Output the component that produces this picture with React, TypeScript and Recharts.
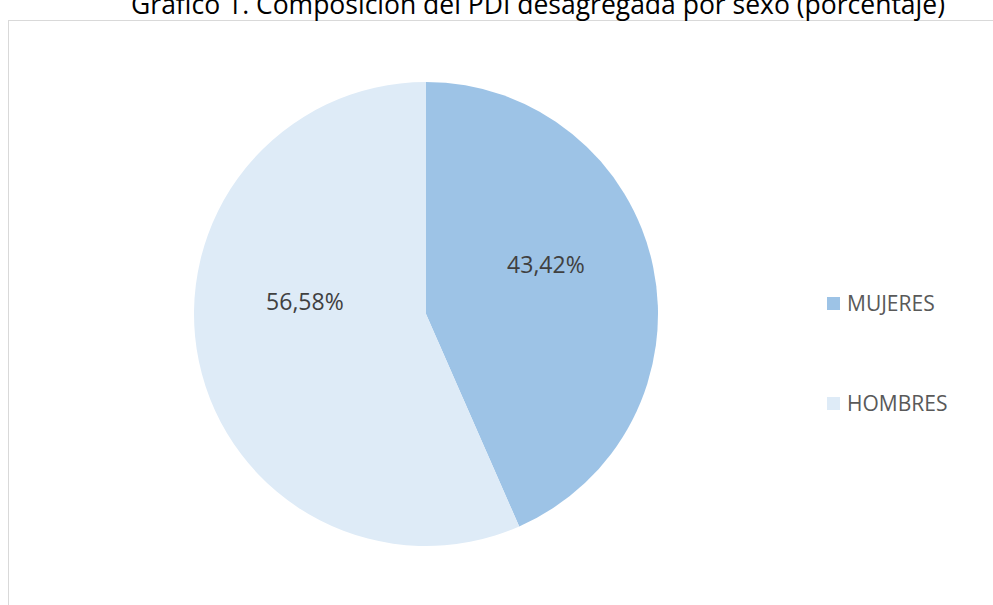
import { PieChart, Pie, Cell, Legend } from "recharts";

const categories = ["MUJERES", "HOMBRES"];
const values = [43.42, 56.58];
const labels = ["43,42%", "56,58%"];

const colors = ["#9DC3E6", "#DEEBF7"];
// Excel "best fit" label placement: angle tweak (deg) + radius fraction
const labelPlacement = [
  { dAngle: 10.8, r: 0.56 },
  { dAngle: -17.9, r: 0.525 },
];

const data = categories.map((name, i) => ({ name, value: values[i], label: labels[i] }));

const RAD = Math.PI / 180;

const renderLabel = (props: any) => {
  const { cx, cy, midAngle, outerRadius, index } = props;
  const p = labelPlacement[index];
  const a = (midAngle + p.dAngle) * RAD;
  const x = cx + outerRadius * p.r * Math.cos(a);
  const y = cy - outerRadius * p.r * Math.sin(a);
  return (
    <text
      x={x}
      y={y}
      textAnchor="middle"
      dominantBaseline="central"
      fill="#404040"
      style={{ fontFamily: "Open Sans", fontSize: 23 }}
    >
      {data[index].label}
    </text>
  );
};

// legend keeps the data order (MUJERES first)
const renderLegend = () => (
  <div style={{ fontFamily: "Open Sans", fontSize: 21, color: "#595959" }}>
    {data.map((d, i) => (
      <div
        key={d.name}
        style={{ display: "flex", alignItems: "center", height: 26, marginBottom: i === 0 ? 74 : 0 }}
      >
        <span
          style={{ width: 13, height: 13, background: colors[i], marginRight: 7, display: "inline-block" }}
        />
        {d.name}
      </div>
    ))}
  </div>
);

export default function App() {
  return (
    <div style={{ position: "absolute", left: 0, top: 0, width: 993, height: 605, overflow: "hidden", background: "#fff" }}>
      {/* chart area frame, runs off the right and bottom */}
      <div
        style={{
          position: "absolute",
          left: 8,
          top: 20,
          width: 1000,
          height: 600,
          border: "1.5px solid #d9d9d9",
          boxSizing: "border-box",
        }}
      />
      <div
        style={{
          position: "absolute",
          left: 0,
          top: -14,
          width: 1076,
          textAlign: "center",
          fontFamily: "Open Sans",
          fontSize: 26.5,
          color: "#000",
          whiteSpace: "nowrap",
          lineHeight: "36px",
        }}
      >
        Gráfico 1. Composición del PDI desagregada por sexo (porcentaje)
      </div>
      <div style={{ position: "absolute", left: 0, top: 0 }}>
        <PieChart width={993} height={605} margin={{ top: 0, right: 0, bottom: 0, left: 0 }}>
          <Pie
            data={data}
            dataKey="value"
            nameKey="name"
            cx={426}
            cy={314}
            outerRadius={232}
            startAngle={90}
            endAngle={-270}
            stroke="none"
            label={renderLabel}
            labelLine={false}
            isAnimationActive={false}
          >
            {data.map((d, i) => (
              <Cell key={d.name} fill={colors[i]} />
            ))}
          </Pie>
          <Legend
            layout="vertical"
            content={renderLegend}
            wrapperStyle={{ position: "absolute", left: 827, top: 290, width: 160 }}
          />
        </PieChart>
      </div>
    </div>
  );
}
